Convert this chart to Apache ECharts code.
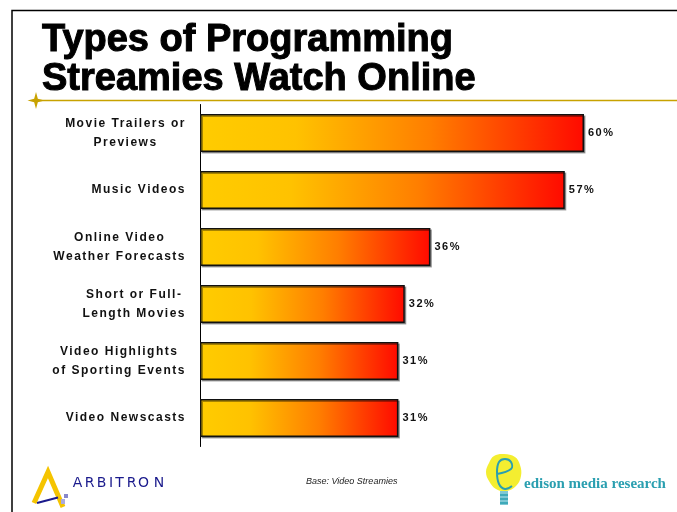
<!DOCTYPE html>
<html>
<head>
<meta charset="utf-8">
<script src="https://cdn.jsdelivr.net/npm/echarts@6/dist/echarts.min.js"></script>
<style>
  html, body { margin: 0; padding: 0; background: #fff; }
  #chart { width: 677px; height: 512px; }
</style>
</head>
<body>
<div id="chart"></div>
<script>
// Programming types watched online by video streamers (share of respondents, %)
const categories = [
  'Movie Trailers or\nPreviews',
  'Music Videos',
  'Online Video\nWeather Forecasts',
  'Short or Full-\nLength Movies',
  'Video Highlights\nof Sporting Events',
  'Video Newscasts'
];
const shares = [60, 57, 36, 32, 31, 31];

const titleLines = ['Types of Programming', 'Streamies Watch Online'];
const baseNote = 'Base: Video Streamies';

// Wide tracking for the small bold label text (axis names and value labels).
// Applied to both drawing and measuring so alignment stays consistent.
(function () {
  const proto = CanvasRenderingContext2D.prototype;
  if (!('letterSpacing' in proto)) return;
  const tracked = function (ctx) {
    const f = ctx.font || '';
    ctx.letterSpacing = (/bold/.test(f) && /\b1[12]px/.test(f) && /Liberation Sans/.test(f)) ? '1.5px' : '0px';
  };
  const fill = proto.fillText, stroke = proto.strokeText, measure = proto.measureText;
  proto.fillText = function () { tracked(this); return fill.apply(this, arguments); };
  proto.strokeText = function () { tracked(this); return stroke.apply(this, arguments); };
  proto.measureText = function () { tracked(this); return measure.apply(this, arguments); };
})();

const chart = echarts.init(document.getElementById('chart'));

const barFill = new echarts.graphic.LinearGradient(0, 0, 1, 0, [
  { offset: 0, color: '#FFCC00' },
  { offset: 0.25, color: '#FFC200' },
  { offset: 0.6, color: '#FF7E00' },
  { offset: 1, color: '#FF0A00' }
]);

// four-pointed star
function starPoints(cx, cy, outer, inner) {
  const pts = [];
  for (let k = 0; k < 8; k++) {
    const a = k * Math.PI / 4;
    const r = k % 2 === 0 ? outer : inner;
    pts.push([cx + r * Math.cos(a), cy + r * Math.sin(a)]);
  }
  return pts;
}

// ARBITRON wordmark, one glyph at a time for its wide tracking
const arbitronLetters = ['A', 'R', 'B', 'I', 'T', 'R', 'O', 'N'];
const arbitronX = [77.5, 89.5, 101.5, 111, 119.5, 131.5, 143.5, 159];

const titleFont = 'bold 38px "Liberation Sans", Arial, sans-serif';
const labelFamily = '"Liberation Sans", Arial, sans-serif';

const graphics = [
  // slide frame
  { type: 'rect', shape: { x: 12, y: 10.5, width: 700, height: 600 },
    style: { fill: 'none', stroke: '#000', lineWidth: 1.5 }, silent: true },
  // gold rule under the heading
  { type: 'line', shape: { x1: 37, y1: 100.5, x2: 677, y2: 100.5 },
    style: { stroke: '#C8A200', lineWidth: 1.5 }, silent: true },
  { type: 'polygon', shape: { points: starPoints(36, 100.5, 8.5, 2.6) },
    style: { fill: '#C8A200' }, silent: true },
  // heading
  { type: 'text', x: 42, y: 40.5, style: { text: titleLines[0], font: titleFont,
      fill: '#000', stroke: '#000', lineWidth: 1, verticalAlign: 'middle', align: 'left' } },
  { type: 'text', x: 42, y: 80, style: { text: titleLines[1], font: titleFont,
      fill: '#000', stroke: '#000', lineWidth: 1, verticalAlign: 'middle', align: 'left' } },
  // footnote
  { type: 'text', x: 306, y: 481, style: { text: baseNote, font: 'italic 9px "Liberation Sans", Arial, sans-serif',
      fill: '#222', verticalAlign: 'middle', align: 'left' } },
  // Arbitron logo
  { type: 'polyline', shape: { points: [[34, 503], [48, 472], [63, 507]] },
    style: { stroke: '#F5C400', lineWidth: 5, fill: 'none', lineJoin: 'miter' }, silent: true },
  { type: 'line', shape: { x1: 37, y1: 503, x2: 58, y2: 497.5 },
    style: { stroke: '#1a1a8c', lineWidth: 2 }, silent: true },
  { type: 'rect', shape: { x: 64, y: 494, width: 4, height: 4 }, style: { fill: '#8888cc' }, silent: true },
  { type: 'rect', shape: { x: 61, y: 499, width: 4, height: 5 }, style: { fill: '#aaaadd' }, silent: true },
  // Edison logo: lightbulb
  { type: 'polygon', shape: { points: [[489, 463], [494, 456], [504, 454], [515, 457], [520, 465], [521, 476], [516, 486], [506, 491], [496, 489], [489, 481], [486, 472]], smooth: 0.4 },
    style: { fill: '#F4EE30' }, silent: true },
  { type: 'polyline', shape: { points: [[497, 474], [511, 469], [511, 462], [505, 459], [499, 462], [497, 472], [499, 484], [505, 489], [512, 486]], smooth: 0.4 },
    style: { stroke: '#2a9fb0', lineWidth: 2, fill: 'none' }, silent: true },
  { type: 'rect', shape: { x: 500, y: 491, width: 8, height: 14 }, style: { fill: '#7fc8d4' }, silent: true },
  { type: 'line', shape: { x1: 500, y1: 495, x2: 508, y2: 495 }, style: { stroke: '#2a9fb0', lineWidth: 1.5 }, silent: true },
  { type: 'line', shape: { x1: 500, y1: 499, x2: 508, y2: 499 }, style: { stroke: '#2a9fb0', lineWidth: 1.5 }, silent: true },
  { type: 'line', shape: { x1: 500, y1: 503, x2: 508, y2: 503 }, style: { stroke: '#2a9fb0', lineWidth: 1.5 }, silent: true },
  { type: 'text', x: 524, y: 484, style: { text: 'edison media research',
      font: 'bold 15px "Liberation Serif", "Times New Roman", serif', fill: '#2a9fb0', verticalAlign: 'middle', align: 'left' } }
];

arbitronLetters.forEach(function (ch, i) {
  graphics.push({ type: 'text', x: arbitronX[i], y: 483.5,
    style: { text: ch, font: '14px "DejaVu Sans", sans-serif', fill: '#1a1a8c', align: 'center', verticalAlign: 'middle' } });
});

chart.setOption({
  animation: false,
  backgroundColor: '#fff',
  grid: { left: 200, top: 104.5, width: 448, height: 342, containLabel: false },
  xAxis: {
    type: 'value', min: 0, max: 70, show: false
  },
  yAxis: {
    type: 'category',
    data: categories,
    inverse: true,
    axisLine: { show: true, lineStyle: { color: '#000', width: 1 } },
    axisTick: { show: false },
    splitLine: { show: false },
    axisLabel: {
      margin: 14,
      align: 'right',
      formatter: function (v) {
        return v.split('\n').map(function (s) { return '{c|' + s + '}'; }).join('\n');
      },
      rich: {
        c: { align: 'center', fontFamily: labelFamily, fontWeight: 'bold', fontSize: 12, color: '#111', lineHeight: 19.5 }
      }
    }
  },
  series: [{
    type: 'bar',
    data: shares,
    barWidth: 38,
    itemStyle: {
      color: barFill,
      borderColor: '#111',
      borderWidth: 1.5,
      shadowColor: 'rgba(0,0,0,0.35)',
      shadowOffsetX: 1.5,
      shadowOffsetY: 1.5,
      shadowBlur: 0
    },
    label: {
      show: true,
      position: 'right',
      distance: 4,
      formatter: '{c}%',
      fontFamily: labelFamily,
      fontWeight: 'bold',
      fontSize: 11,
      color: '#111'
    }
  }],
  graphic: graphics
});
</script>
</body>
</html>
